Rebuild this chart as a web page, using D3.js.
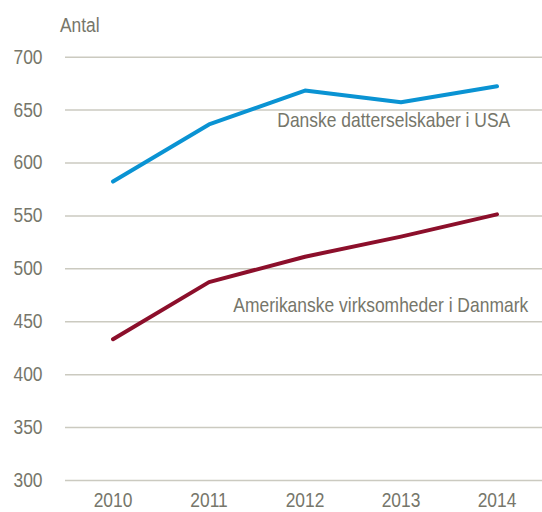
<!DOCTYPE html>
<html>
<head>
<meta charset="utf-8">
<script src="https://cdn.jsdelivr.net/npm/d3@7"></script>
<style>
  html, body { margin: 0; padding: 0; background: #fff; }
  svg { display: block; }
  text { font-family: "Liberation Sans", Arial, sans-serif; fill: #76766a; }
</style>
</head>
<body>
<script>
const years = ["2010", "2011", "2012", "2013", "2014"];
const danskeUSA = [582, 636, 668, 657, 672];
const amerikanskeDK = [433, 487, 511, 530, 551];
const yTicks = [300, 350, 400, 450, 500, 550, 600, 650, 700];
const yTitle = "Antal";
const seriesNames = ["Danske datterselskaber i USA", "Amerikanske virksomheder i Danmark"];

const W = 542, H = 512;
const fontSize = 20;
const squeeze = 0.87;
const svg = d3.select("body").append("svg").attr("width", W).attr("height", H);

function condense(sel) {
  sel.each(function () {
    const w = this.getComputedTextLength() * squeeze;
    d3.select(this).attr("textLength", w).attr("lengthAdjust", "spacingAndGlyphs");
  });
}

// Label squeezed horizontally to a target width via a transform
function squeezedLabel(txt, x0, y0, width) {
  const g = svg.append("g");
  const t = g.append("text").attr("x", 0).attr("y", 0).attr("font-size", fontSize).text(txt);
  const natural = t.node().getComputedTextLength();
  g.attr("transform", `translate(${x0},${y0}) scale(${width / natural},1)`);
}

const x = d3.scaleBand().domain(years).range([65, 545]).padding(0);
const cx = d => x(d) + x.bandwidth() / 2;
const y = d3.scaleLinear().domain([300, 700]).range([480, 56.7]);

// Y axis with gridlines
const yAxis = svg.append("g").attr("transform", "translate(65,0)")
  .call(d3.axisLeft(y).tickValues(yTicks).tickSize(-480).tickPadding(22.5).tickFormat(d3.format("d")));
yAxis.select(".domain").remove();
yAxis.selectAll(".tick line").attr("stroke", "#cbcac0").attr("stroke-width", 1.5);
yAxis.selectAll(".tick text").attr("font-size", fontSize).style("fill", "#76766a").call(condense);

// X axis
const xAxis = svg.append("g").attr("transform", "translate(0,480)")
  .call(d3.axisBottom(x).tickSize(0).tickPadding(12.3));
xAxis.select(".domain").remove();
xAxis.selectAll(".tick text").attr("font-size", fontSize).style("fill", "#76766a").call(condense);

// Y title
svg.append("text").attr("x", 60).attr("y", 32).attr("font-size", fontSize).text(yTitle).call(condense);

// Lines
const line = d3.line().x((d, i) => cx(years[i])).y(d => y(d));
svg.append("path").datum(danskeUSA).attr("d", line)
  .attr("fill", "none").attr("stroke", "#0a93d3").attr("stroke-width", 4)
  .attr("stroke-linejoin", "round").attr("stroke-linecap", "round");
svg.append("path").datum(amerikanskeDK).attr("d", line)
  .attr("fill", "none").attr("stroke", "#8c0f2b").attr("stroke-width", 4)
  .attr("stroke-linejoin", "round").attr("stroke-linecap", "round");

// Series labels
squeezedLabel(seriesNames[0], 277.3, 126.7, 233);
squeezedLabel(seriesNames[1], 233.3, 311.7, 295);
</script>
</body>
</html>
